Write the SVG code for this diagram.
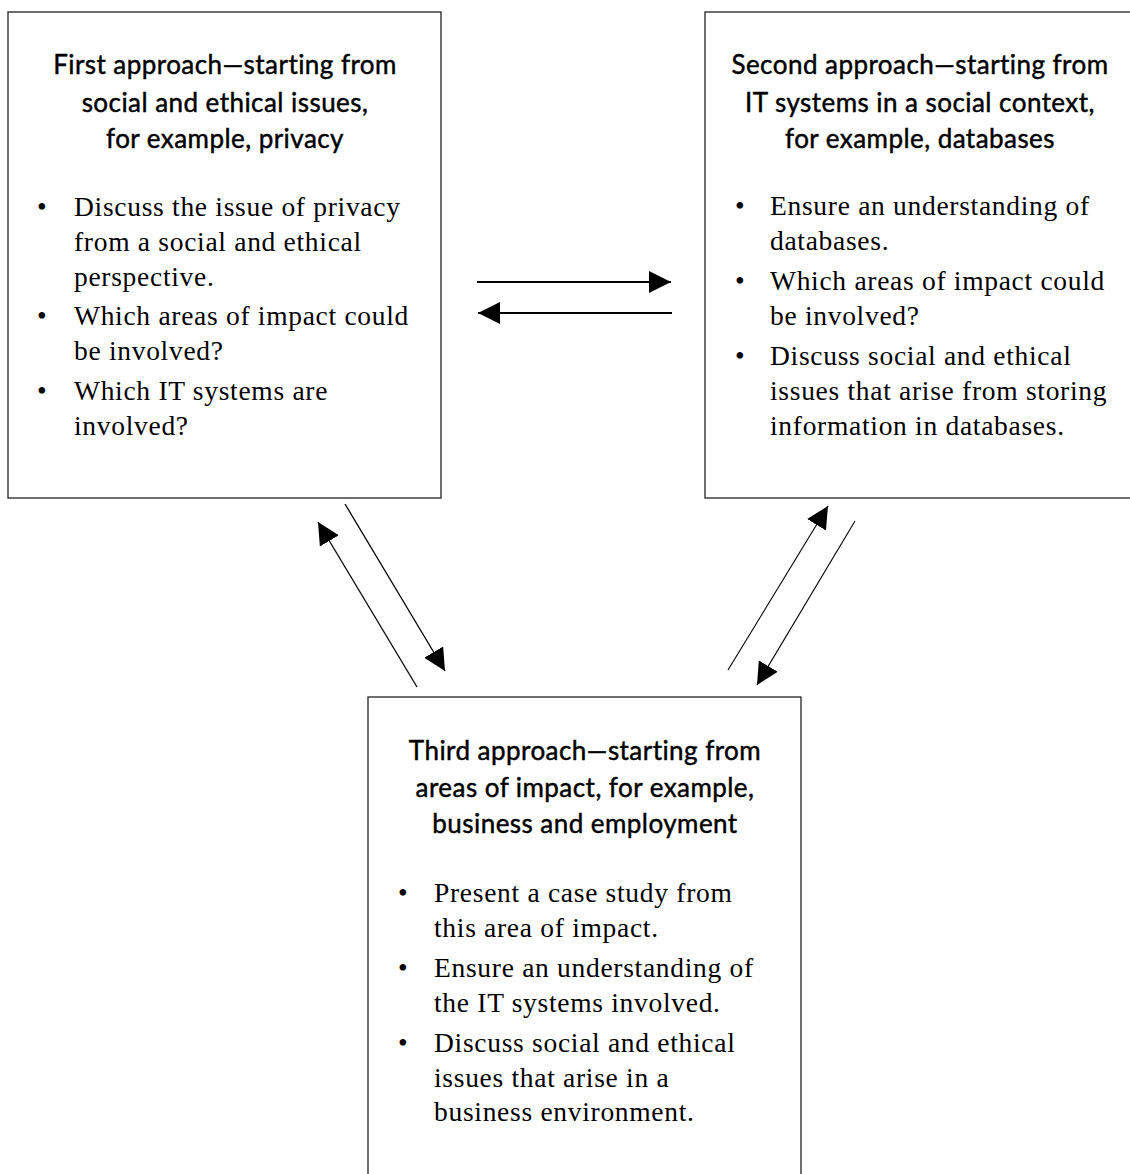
<svg xmlns="http://www.w3.org/2000/svg" width="1130" height="1174" viewBox="0 0 1130 1174">
<style>
.box{fill:#fff;stroke:#222;stroke-width:1.3}
.hd{font-family:Lato,"Open Sans",sans-serif;font-size:26px;fill:#000;stroke:#000;stroke-width:0.45;letter-spacing:0.45px;text-anchor:middle}
.bd{font-family:"Liberation Serif","Times New Roman",serif;font-size:27.5px;letter-spacing:0.7px;fill:#000}
.ln{stroke:#000;fill:none}
</style>
<defs>
<marker id="ah" markerUnits="userSpaceOnUse" markerWidth="22" markerHeight="22" viewBox="0 0 21 21" refX="21" refY="10.5" orient="auto">
<path d="M0,0 L21,10.5 L0,21 Z" fill="#000"/>
</marker>
</defs>
<rect width="1130" height="1174" fill="#fff"/>
<g id="node-first">
<rect class="box" x="8" y="12" width="433" height="486"/>
<text class="hd" x="225" y="74">First approach—starting from</text>
<text class="hd" x="225" y="112">social and ethical issues,</text>
<text class="hd" x="225" y="148">for example, privacy</text>
<text class="bd" x="37" y="216">•</text>
<text class="bd" x="74" y="216">Discuss the issue of privacy</text>
<text class="bd" x="74" y="251">from a social and ethical</text>
<text class="bd" x="74" y="286">perspective.</text>
<text class="bd" x="37" y="325">•</text>
<text class="bd" x="74" y="325">Which areas of impact could</text>
<text class="bd" x="74" y="360">be involved?</text>
<text class="bd" x="37" y="400">•</text>
<text class="bd" x="74" y="400">Which IT systems are</text>
<text class="bd" x="74" y="435">involved?</text>
</g>
<g id="node-second">
<rect class="box" x="705" y="12" width="440" height="486"/>
<text class="hd" x="920" y="74">Second approach—starting from</text>
<text class="hd" x="920" y="112">IT systems in a social context,</text>
<text class="hd" x="920" y="148">for example, databases</text>
<text class="bd" x="735" y="215">•</text>
<text class="bd" x="770" y="215">Ensure an understanding of</text>
<text class="bd" x="770" y="250">databases.</text>
<text class="bd" x="735" y="290">•</text>
<text class="bd" x="770" y="290">Which areas of impact could</text>
<text class="bd" x="770" y="325">be involved?</text>
<text class="bd" x="735" y="365">•</text>
<text class="bd" x="770" y="365">Discuss social and ethical</text>
<text class="bd" x="770" y="400">issues that arise from storing</text>
<text class="bd" x="770" y="435">information in databases.</text>
</g>
<g id="node-third">
<rect class="box" x="368" y="697" width="433" height="500"/>
<text class="hd" x="585" y="760">Third approach—starting from</text>
<text class="hd" x="585" y="797">areas of impact, for example,</text>
<text class="hd" x="585" y="833">business and employment</text>
<text class="bd" x="398" y="902">•</text>
<text class="bd" x="434" y="902">Present a case study from</text>
<text class="bd" x="434" y="937">this area of impact.</text>
<text class="bd" x="398" y="977">•</text>
<text class="bd" x="434" y="977">Ensure an understanding of</text>
<text class="bd" x="434" y="1012">the IT systems involved.</text>
<text class="bd" x="398" y="1052">•</text>
<text class="bd" x="434" y="1052">Discuss social and ethical</text>
<text class="bd" x="434" y="1087">issues that arise in a</text>
<text class="bd" x="434" y="1121">business environment.</text>
</g>
<g id="connectors">
<line class="ln" stroke-width="1.8" x1="477" y1="282" x2="671" y2="282" marker-end="url(#ah)"/>
<line class="ln" stroke-width="1.8" x1="672" y1="313" x2="478" y2="313" marker-end="url(#ah)"/>
<line class="ln" stroke-width="1.3" x1="345" y1="504" x2="445" y2="671" marker-end="url(#ah)"/>
<line class="ln" stroke-width="1.3" x1="417" y1="687" x2="318" y2="522" marker-end="url(#ah)"/>
<line class="ln" stroke-width="1.1" x1="728" y1="670" x2="828" y2="506" marker-end="url(#ah)"/>
<line class="ln" stroke-width="1.1" x1="855" y1="521" x2="757" y2="685" marker-end="url(#ah)"/>
</g>
</svg>
